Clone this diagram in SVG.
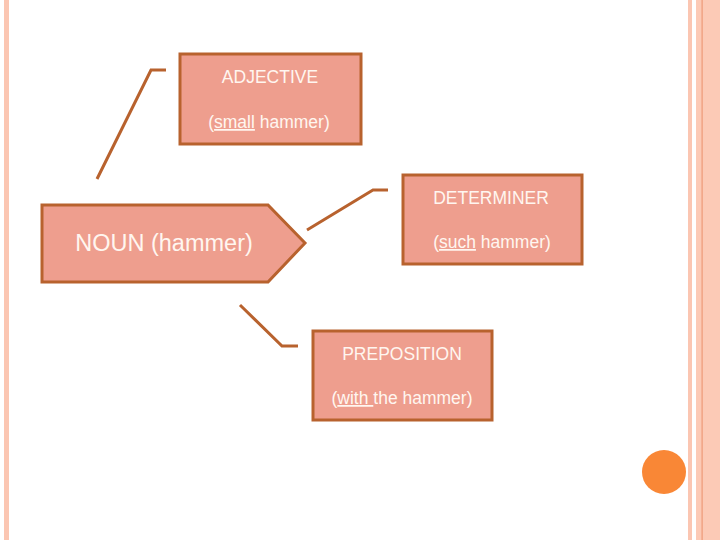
<svg xmlns="http://www.w3.org/2000/svg" width="720" height="540" viewBox="0 0 720 540">
<style>
.box{fill:#EE9E8E;stroke:#B8622E;stroke-width:3}
.conn{fill:none;stroke:#B8622E;stroke-width:3}
.t{font-family:"Liberation Sans",Arial,sans-serif;fill:#FFF6F0;text-anchor:middle}
.s{font-size:17.5px}
.u{text-decoration:underline}
</style>
<rect width="720" height="540" fill="#FFFFFF"/>
<g id="frame">
<rect x="4" y="0" width="5" height="540" fill="#FBC6B2"/>
<rect x="688" y="0" width="4" height="540" fill="#FBC6B2"/>
<rect x="696" y="0" width="24" height="540" fill="#FCCAB6"/>
<rect x="701.5" y="0" width="1.2" height="540" fill="#EE9A78"/>
<circle cx="664" cy="472" r="22" fill="#F98736"/>
</g>
<g id="connectors">
<polyline class="conn" points="97,179 151,70 166,70"/>
<polyline class="conn" points="307,230 373,190 388,190"/>
<polyline class="conn" points="240,305 282,346 298,346"/>
</g>
<g id="noun">
<polygon class="box" points="42,205 268,205 305,243 268,282 42,282"/>
<text class="t" x="164" y="251" font-size="23.5">NOUN (hammer)</text>
</g>
<g id="adjective">
<rect class="box" x="180" y="54" width="181" height="90"/>
<text class="t s" x="270" y="83">ADJECTIVE</text>
<text class="t s" x="269" y="128">(<tspan class="u">small</tspan> hammer)</text>
</g>
<g id="determiner">
<rect class="box" x="403" y="175" width="179" height="89"/>
<text class="t s" x="491" y="204">DETERMINER</text>
<text class="t s" x="492" y="248">(<tspan class="u">such</tspan> hammer)</text>
</g>
<g id="preposition">
<rect class="box" x="313" y="331" width="179" height="89"/>
<text class="t s" x="402" y="360">PREPOSITION</text>
<text class="t s" x="402" y="404">(<tspan class="u">with </tspan>the hammer)</text>
</g>
</svg>
